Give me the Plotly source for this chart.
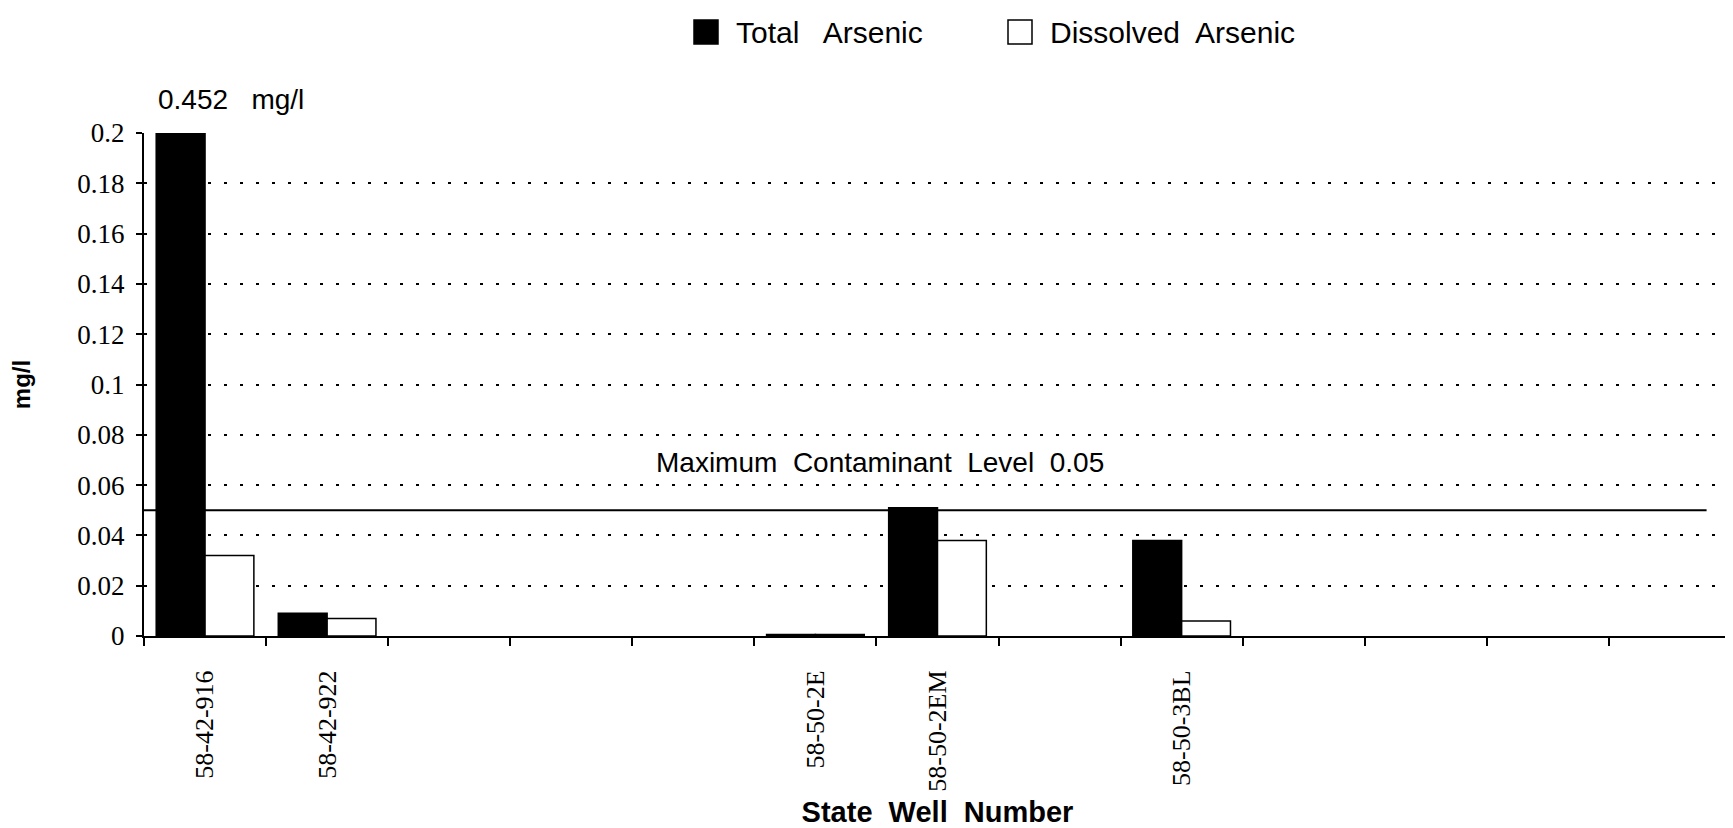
import plotly.graph_objects as go

# ---- data ----
wells = ["58-42-916", "58-42-922", "58-50-2E", "58-50-2EM", "58-50-3BL"]
well_slot = [0, 1, 5, 6, 8]          # position of each well among the 13 axis slots
n_slots = 13
total_arsenic = [0.452, 0.009, 0.0006, 0.051, 0.038]
dissolved_arsenic = [0.032, 0.007, 0.0006, 0.038, 0.006]
mcl_value = 0.05
y_tickvals = [0, 0.02, 0.04, 0.06, 0.08, 0.1, 0.12, 0.14, 0.16, 0.18, 0.2]
y_ticktext = ["0", "0.02", "0.04", "0.06", "0.08", "0.1", "0.12", "0.14", "0.16", "0.18", "0.2"]
y_max = 0.2

# ---- layout geometry (screen pixels; the page adds an 8px body margin) ----
OFF = 8
W, H = 1733 - OFF, 828 - OFF
L, R, T, B = 144 - OFF, 1731 - OFF, 133 - OFF, 636 - OFF

def px_x(px):          # screen x -> paper
    return (px - OFF - L) / (R - L)

def px_y(py):          # screen y -> paper
    return (B - (py - OFF)) / (B - T)

SANS = "Liberation Sans, Arial, sans-serif"
SERIF = "Liberation Serif, Times New Roman, serif"
NB = "\u00a0"

fig = go.Figure()
fig.add_trace(go.Bar(
    name="Total Arsenic", x=well_slot, y=total_arsenic,
    marker=dict(color="black", line=dict(color="black", width=1.5)),
    showlegend=False,
))
fig.add_trace(go.Bar(
    name="Dissolved Arsenic", x=well_slot, y=dissolved_arsenic,
    marker=dict(color="white", line=dict(color="black", width=1.5)),
    showlegend=False,
))

boundaries = [i - 0.5 for i in range(n_slots + 1)]

fig.update_layout(
    width=W, height=H,
    margin=dict(l=L, r=W - R, t=T, b=H - B, autoexpand=False),
    paper_bgcolor="white", plot_bgcolor="white",
    barmode="group", bargap=0.2, bargroupgap=0,
    showlegend=False,
    xaxis=dict(
        automargin=False,
        range=[-0.5, n_slots - 0.5],
        tickmode="array", tickvals=well_slot, ticktext=wells,
        tickangle=-90, ticks="",
        tickfont=dict(family=SERIF, size=26, color="black"),
        ticklabelstandoff=22,
        showline=True, linecolor="black", linewidth=2,
        showgrid=False, zeroline=False,
        minor=dict(tickmode="array", tickvals=boundaries, ticks="outside",
                   ticklen=8, tickwidth=1.5, tickcolor="black", showgrid=False),
        title=dict(text="State" + NB + " Well" + NB + " Number",
                   font=dict(family=SANS, size=29, color="black", weight="bold"),
                   standoff=22),
    ),
    yaxis=dict(
        automargin=False,
        range=[0, y_max],
        tickmode="array", tickvals=y_tickvals, ticktext=y_ticktext,
        ticks="outside", ticklen=6, tickwidth=1.5, tickcolor="black",
        tickfont=dict(family=SERIF, size=27, color="black"),
        ticklabelstandoff=6,
        showline=True, linecolor="black", linewidth=2,
        showgrid=True, gridcolor="black", gridwidth=1.5, griddash="3px,13px",
        zeroline=False,
        title=dict(text="mg/l",
                   font=dict(family=SANS, size=24, color="black", weight="bold"),
                   standoff=46),
    ),
)

# Maximum contaminant level line
fig.add_shape(type="line", xref="x", yref="y",
              x0=-0.5, x1=12.3, y0=mcl_value, y1=mcl_value,
              line=dict(color="black", width=2), layer="below")
fig.add_annotation(xref="x", yref="y", x=5.53, y=mcl_value,
                   text="Maximum" + NB + " Contaminant" + NB + " Level" + NB + f" {mcl_value}",
                   showarrow=False, yanchor="middle", yshift=48,
                   font=dict(family=SANS, size=28, color="black"))

# off-scale value label for the first bar
fig.add_annotation(xref="x", yref="paper", x=well_slot[0] - 0.4, y=1,
                   text=f"{total_arsenic[0]}" + NB * 3 + "mg/l",
                   showarrow=False, xanchor="left", yanchor="middle", yshift=34,
                   font=dict(family=SANS, size=28, color="black"))

# legend (drawn manually to match the large square keys)
legend_items = [("Total" + NB * 2 + " Arsenic", "black", 694, 718, 734),
                ("Dissolved" + NB + " Arsenic", "white", 1008, 1032, 1048)]
for label, color, sx0, sx1, tx in legend_items:
    fig.add_shape(type="rect", xref="paper", yref="paper",
                  x0=px_x(sx0), x1=px_x(sx1), y0=px_y(44), y1=px_y(20),
                  fillcolor=color, line=dict(color="black", width=1.5))
    fig.add_annotation(xref="paper", yref="paper", x=px_x(tx), y=px_y(33),
                       text=label, showarrow=False, xanchor="left", yanchor="middle",
                       font=dict(family=SANS, size=30, color="black"))

fig.write_html("out.html")
